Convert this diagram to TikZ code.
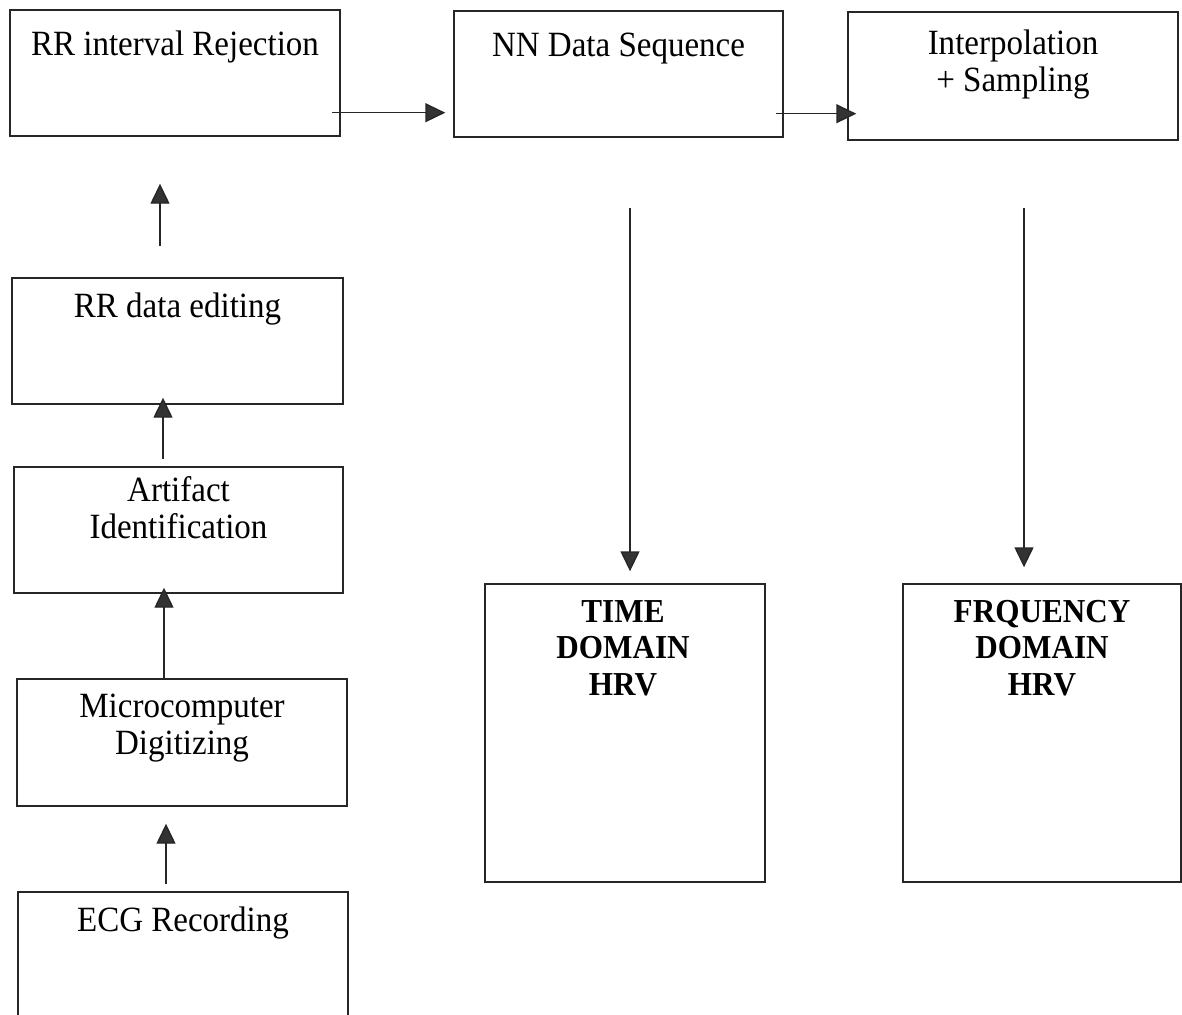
\documentclass[tikz,border=0pt]{standalone}
\usepackage{fontspec}
\setmainfont{Liberation Serif}[FakeStretch=0.93]
\usetikzlibrary{arrows.meta,fit}

% first line set on the node's base anchor
\newcommand{\lines}[1]{\begin{tabular}[t]{@{}c@{}}#1\end{tabular}}

\begin{document}
\begin{tikzpicture}[x=1pt,y=-1pt,
  box/.style={draw=black!85,line width=1.4pt,inner sep=0pt,fit={#1}},
  lbl/.style={anchor=base,inner sep=0pt,font=\fontsize{35.5}{37}\selectfont},
  hlbl/.style={anchor=base,inner sep=0pt,font=\fontsize{33.5}{36.5}\selectfont\bfseries},
  arr/.style={draw=black!85,line width=1.4pt,
    -{Triangle[length=20pt,width=19pt,fill=black!80]}}]
\useasboundingbox (0,0) rectangle (1182,1014);
\clip (0,0) rectangle (1182,1014);

% processing chain, left column (bottom to top) and top row
\node[box={(10,10) (340,136)}]   (rej)    {};
\node[box={(454,11) (783,137)}]  (nn)     {};
\node[box={(848,12) (1178,140)}] (interp) {};
\node[box={(12,278) (343,404)}]  (edit)   {};
\node[box={(14,467) (343,593)}]  (art)    {};
\node[box={(17,679) (347,806)}]  (micro)  {};
\node[box={(18,892) (348,1030)}] (ecg)    {};
% results
\node[box={(485,584) (765,882)}]  (time) {};
\node[box={(903,584) (1181,882)}] (freq) {};

% box texts
\node[lbl] (trej)    at ([yshift=-46pt]rej.north)    {RR interval Rejection};
\node[lbl] (tnn)     at ([yshift=-46pt]nn.north)     {NN Data Sequence};
\node[lbl] (tinterp) at ([yshift=-43pt]interp.north) {\lines{Interpolation\\+ Sampling}};
\node[lbl] (tedit)   at ([yshift=-40pt]edit.north)   {RR data editing};
\node[lbl] (tart)    at ([yshift=-35pt]art.north)    {\lines{Artifact\\Identification}};
\node[lbl] (tmicro)  at ([yshift=-39pt]micro.north)  {\lines{Microcomputer\\Digitizing}};
\node[lbl] (tecg)    at ([yshift=-40pt]ecg.north)    {ECG Recording};
\node[hlbl] (ttime)  at ([xshift=-2pt,yshift=-39pt]time.north) {\lines{TIME\\DOMAIN\\HRV}};
\node[hlbl] (tfreq)  at ([yshift=-39pt]freq.north)   {\lines{FRQUENCY\\DOMAIN\\HRV}};

% connectors
\draw[arr] ([xshift=-17pt,yshift=7pt]ecg.north)     -- ([xshift=-16pt,yshift=-17pt]micro.south);
\draw[arr] ([xshift=-18pt]micro.north)              -- ([xshift=-14.5pt,yshift=6pt]art.south);
\draw[arr] ([xshift=-15.5pt,yshift=7pt]art.north)   -- ([xshift=-14.5pt,yshift=7pt]edit.south);
\draw[arr] ([xshift=-17.5pt,yshift=31pt]edit.north) -- ([xshift=-15pt,yshift=-47pt]rej.south);
\draw[arr] ([xshift=-9pt,yshift=24pt]rej.south east) -- ([xshift=-8pt,yshift=25pt]nn.south west);
\draw[arr] ([xshift=-8pt,yshift=24pt]nn.south east)  -- ([xshift=9pt,yshift=27pt]interp.south west);
\draw[arr] ([xshift=11.5pt,yshift=-70pt]nn.south)   -- ([xshift=5pt,yshift=12pt]time.north);
\draw[arr] ([xshift=11pt,yshift=-67pt]interp.south) -- ([xshift=-18pt,yshift=16pt]freq.north);
\end{tikzpicture}
\end{document}
